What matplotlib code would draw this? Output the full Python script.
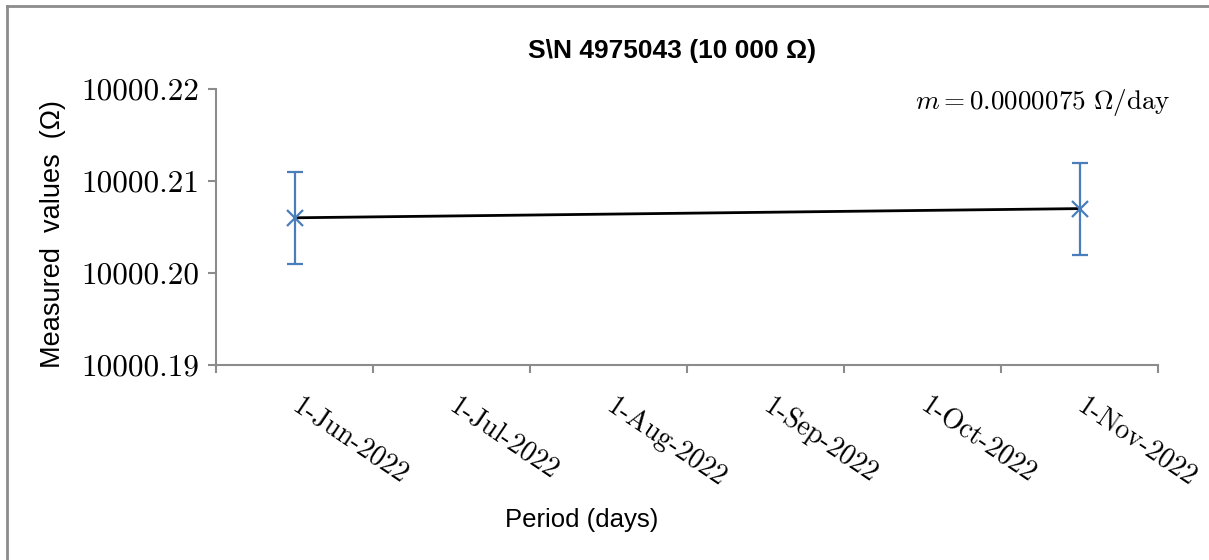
import matplotlib
matplotlib.use("Agg")
import matplotlib.pyplot as plt
from matplotlib.lines import Line2D
from matplotlib.ticker import FixedLocator, FormatStrFormatter

# Data
months = ["1-Jun-2022", "1-Jul-2022", "1-Aug-2022",
          "1-Sep-2022", "1-Oct-2022", "1-Nov-2022"]
point_months = ["1-Jun-2022", "1-Nov-2022"]
measured = [10000.206, 10000.207]
uncertainty = [0.005, 0.005]
y_ticks = [10000.19, 10000.20, 10000.21, 10000.22]

title = "S\\N 4975043 (10 000 \u03a9)"
slope_text = r"$m = 0.0000075\ \Omega/\mathrm{day}$"

plt.rcParams["mathtext.fontset"] = "cm"
blue = "#4a7ebb"
grey = "#8c8c8c"

fig = plt.figure(figsize=(12.09, 5.6), dpi=100)
ax = fig.add_axes([216 / 1209, 1 - 365 / 560, (1158 - 216) / 1209, (365 - 89) / 560])

xpos = [months.index(m) for m in point_months]
ax.plot(xpos, measured, color="black", lw=2, zorder=2)
ax.errorbar(xpos, measured, yerr=uncertainty, fmt="x", color=blue, ecolor=blue,
            ms=11, mew=1.6, elinewidth=1.6, capsize=6, capthick=1.6, zorder=3)

ax.set_xlim(-0.5, len(months) - 0.5)
ax.set_ylim(y_ticks[0], y_ticks[-1])

# month boundaries carry the tick marks, labels sit at the month centres
ax.xaxis.set_major_locator(FixedLocator([i - 0.5 for i in range(len(months) + 1)]))
ax.xaxis.set_minor_locator(FixedLocator(list(range(len(months)))))
ax.set_xticklabels([], minor=False)
ax.set_xticklabels(months, minor=True, rotation=-34, ha="left", va="center",
                   rotation_mode="anchor", family="cmr10", fontsize=20)
ax.tick_params(axis="x", which="major", direction="out", length=6, width=1.5, color=grey)
ax.tick_params(axis="x", which="minor", length=0, pad=28)

ax.set_yticks(y_ticks)
ax.yaxis.set_major_formatter(FormatStrFormatter("%.2f"))
ax.tick_params(axis="y", direction="out", length=6, width=1.5, color=grey, pad=6)
for lab in ax.get_yticklabels():
    lab.set_family("cmr10")
    lab.set_fontsize(22.5)

for side in ["top", "right"]:
    ax.spines[side].set_visible(False)
for side in ["left", "bottom"]:
    ax.spines[side].set_color(grey)
    ax.spines[side].set_linewidth(1.5)

fig.text(672 / 1209, 1 - 51 / 560, title, ha="center", va="center",
         family="Liberation Sans", fontweight="bold", fontsize=19)
fig.text(53 / 1209, 1 - 234 / 560, "Measured  values  (\u03a9)", rotation=90,
         ha="center", va="center", family="Liberation Sans", fontsize=19.5)
fig.text(582 / 1209, 1 - 520 / 560, "Period (days)", ha="center", va="center",
         family="Liberation Sans", fontsize=18.5)
fig.text(915 / 1209, 1 - 103 / 560, slope_text, ha="left", va="center", fontsize=19.5)

# chart area border (only top and left edges are visible)
fig.add_artist(Line2D([7 / 1209, 1], [1 - 5.5 / 560, 1 - 5.5 / 560],
                      transform=fig.transFigure, color=grey, lw=2))
fig.add_artist(Line2D([7 / 1209, 7 / 1209], [0, 1 - 5.5 / 560],
                      transform=fig.transFigure, color=grey, lw=2))

fig.savefig("out.png", dpi=100)
